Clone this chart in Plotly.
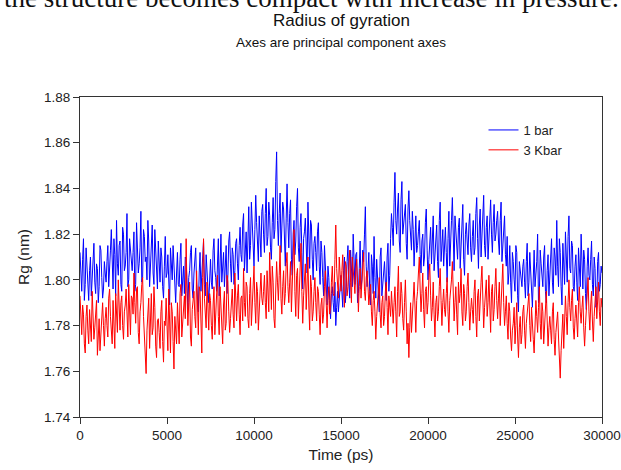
import plotly.graph_objects as go

# Samples: values at whole 100 ps steps (0 ... 30000 ps)
time_step_ps = [i * 100 for i in range(301)]
# and values at the half steps in between (50 ... 29950 ps)
time_half_ps = [i * 100 + 50 for i in range(300)]

# Radius of gyration (nm) at 1 bar
rg_1bar = [
    1.812, 1.795, 1.818, 1.798, 1.806, 1.791, 1.810, 1.800, 1.816, 1.794, 1.805, 1.797, 1.813, 1.792, 1.808,
    1.799, 1.815, 1.803, 1.822, 1.796, 1.811, 1.826, 1.802, 1.817, 1.795, 1.820, 1.806, 1.829, 1.800, 1.812,
    1.804, 1.821, 1.798, 1.816, 1.807, 1.830, 1.801, 1.819, 1.810, 1.826, 1.797, 1.813, 1.803, 1.822, 1.806,
    1.817, 1.799, 1.810, 1.792, 1.819, 1.803, 1.795, 1.814, 1.800, 1.808, 1.790, 1.812, 1.797, 1.816, 1.802,
    1.794, 1.809, 1.787, 1.804, 1.815, 1.792, 1.808, 1.798, 1.786, 1.812, 1.801, 1.817, 1.793, 1.806, 1.790,
    1.809, 1.796, 1.818, 1.801, 1.812, 1.793, 1.820, 1.805, 1.797, 1.815, 1.802, 1.821, 1.799, 1.811, 1.804,
    1.818, 1.800, 1.823, 1.808, 1.829, 1.812, 1.803, 1.832, 1.815, 1.826, 1.806, 1.837, 1.817, 1.828, 1.810,
    1.833, 1.812, 1.840, 1.819, 1.828, 1.809, 1.836, 1.822, 1.856, 1.815, 1.838, 1.820, 1.831, 1.806, 1.842,
    1.814, 1.835, 1.802, 1.826, 1.817, 1.840, 1.808, 1.829, 1.796, 1.821, 1.811, 1.834, 1.805, 1.824, 1.800,
    1.819, 1.804, 1.825, 1.798, 1.812, 1.793, 1.808, 1.789, 1.801, 1.783, 1.797, 1.786, 1.780, 1.795, 1.791,
    1.802, 1.788, 1.810, 1.796, 1.815, 1.792, 1.806, 1.820, 1.798, 1.812, 1.794, 1.817, 1.800, 1.808, 1.832,
    1.797, 1.812, 1.789, 1.806, 1.819, 1.792, 1.803, 1.786, 1.814, 1.798, 1.808, 1.791, 1.816, 1.802, 1.829,
    1.815, 1.847, 1.820, 1.838, 1.812, 1.843, 1.824, 1.833, 1.809, 1.839, 1.818, 1.830, 1.806, 1.828, 1.815,
    1.826, 1.803, 1.820, 1.810, 1.831, 1.800, 1.818, 1.807, 1.828, 1.812, 1.824, 1.801, 1.834, 1.815, 1.806,
    1.823, 1.799, 1.830, 1.813, 1.836, 1.804, 1.821, 1.809, 1.827, 1.816, 1.833, 1.802, 1.825, 1.811, 1.829,
    1.808, 1.826, 1.814, 1.836, 1.805, 1.831, 1.819, 1.837, 1.810, 1.828, 1.816, 1.835, 1.812, 1.833, 1.820,
    1.830, 1.811, 1.834, 1.816, 1.828, 1.806, 1.798, 1.815, 1.790, 1.808, 1.795, 1.812, 1.786, 1.804, 1.797,
    1.809, 1.792, 1.816, 1.799, 1.806, 1.788, 1.813, 1.801, 1.820, 1.794, 1.807, 1.797, 1.815, 1.790, 1.811,
    1.800, 1.818, 1.794, 1.810, 1.826, 1.797, 1.812, 1.789, 1.808, 1.821, 1.799, 1.828, 1.803, 1.815, 1.795,
    1.811, 1.791, 1.806, 1.820, 1.796, 1.809, 1.787, 1.814, 1.800, 1.817, 1.793, 1.805, 1.790, 1.812, 1.798,
    1.803,
]
rg_1bar_half = [
    1.800, 1.809, 1.791, 1.814, 1.796, 1.804, 1.793, 1.811, 1.799, 1.807, 1.790, 1.815, 1.801, 1.796, 1.803,
    1.808, 1.797, 1.813, 1.801, 1.818, 1.793, 1.807, 1.815, 1.798, 1.823, 1.804, 1.812, 1.797, 1.818, 1.805,
    1.812, 1.795, 1.825, 1.803, 1.814, 1.799, 1.822, 1.808, 1.800, 1.817, 1.806, 1.824, 1.798, 1.811, 1.796,
    1.808, 1.814, 1.797, 1.806, 1.801, 1.811, 1.789, 1.806, 1.815, 1.795, 1.803, 1.798, 1.809, 1.793, 1.806,
    1.810, 1.797, 1.801, 1.812, 1.796, 1.803, 1.814, 1.788, 1.803, 1.795, 1.809, 1.798, 1.811, 1.797, 1.804,
    1.799, 1.813, 1.804, 1.795, 1.818, 1.803, 1.799, 1.812, 1.808, 1.794, 1.817, 1.807, 1.814, 1.798, 1.816,
    1.807, 1.815, 1.811, 1.824, 1.804, 1.821, 1.826, 1.809, 1.834, 1.813, 1.822, 1.825, 1.808, 1.821, 1.830,
    1.820, 1.829, 1.815, 1.834, 1.814, 1.825, 1.818, 1.843, 1.826, 1.829, 1.812, 1.834, 1.816, 1.827, 1.825,
    1.829, 1.809, 1.820, 1.811, 1.832, 1.814, 1.823, 1.812, 1.818, 1.827, 1.803, 1.817, 1.826, 1.809, 1.816,
    1.812, 1.821, 1.806, 1.817, 1.801, 1.815, 1.797, 1.806, 1.791, 1.794, 1.790, 1.799, 1.788, 1.786, 1.799,
    1.795, 1.804, 1.790, 1.808, 1.799, 1.813, 1.797, 1.803, 1.811, 1.790, 1.805, 1.796, 1.813, 1.820, 1.806,
    1.804, 1.795, 1.811, 1.794, 1.801, 1.809, 1.795, 1.810, 1.793, 1.804, 1.799, 1.810, 1.795, 1.818, 1.823,
    1.834, 1.826, 1.831, 1.817, 1.835, 1.820, 1.829, 1.816, 1.831, 1.826, 1.813, 1.822, 1.818, 1.812, 1.821,
    1.811, 1.817, 1.806, 1.825, 1.813, 1.809, 1.823, 1.817, 1.804, 1.820, 1.808, 1.826, 1.808, 1.822, 1.819,
    1.812, 1.818, 1.806, 1.826, 1.816, 1.828, 1.812, 1.823, 1.805, 1.830, 1.809, 1.820, 1.817, 1.824, 1.814,
    1.819, 1.811, 1.829, 1.818, 1.824, 1.810, 1.830, 1.815, 1.823, 1.809, 1.827, 1.820, 1.825, 1.817, 1.826,
    1.817, 1.826, 1.808, 1.823, 1.811, 1.819, 1.803, 1.799, 1.812, 1.800, 1.815, 1.793, 1.808, 1.798, 1.806,
    1.799, 1.808, 1.793, 1.812, 1.796, 1.809, 1.797, 1.808, 1.790, 1.813, 1.801, 1.810, 1.795, 1.804, 1.793,
    1.808, 1.799, 1.814, 1.802, 1.806, 1.818, 1.797, 1.816, 1.798, 1.806, 1.819, 1.805, 1.817, 1.797, 1.806,
    1.799, 1.814, 1.797, 1.805, 1.813, 1.794, 1.806, 1.802, 1.809, 1.798, 1.810, 1.788, 1.808, 1.795, 1.806,
]

# Radius of gyration (nm) at 3 Kbar
rg_3kbar = [
    1.793, 1.776, 1.785, 1.768, 1.789, 1.772, 1.781, 1.795, 1.774, 1.786, 1.767, 1.783, 1.777, 1.790, 1.771,
    1.788, 1.775, 1.796, 1.779, 1.791, 1.770, 1.786, 1.800, 1.778, 1.793, 1.774, 1.789, 1.782, 1.798, 1.776,
    1.792, 1.803, 1.781, 1.797, 1.772, 1.790, 1.801, 1.776, 1.759, 1.785, 1.770, 1.794, 1.779, 1.788, 1.766,
    1.783, 1.770, 1.791, 1.764, 1.780, 1.774, 1.796, 1.768, 1.786, 1.761, 1.778, 1.790, 1.772, 1.798, 1.781,
    1.793, 1.818, 1.780, 1.799, 1.771, 1.790, 1.784, 1.804, 1.776, 1.795, 1.768, 1.818, 1.786, 1.799, 1.778,
    1.791, 1.774, 1.797, 1.783, 1.802, 1.776, 1.789, 1.772, 1.795, 1.781, 1.799, 1.777, 1.792, 1.785, 1.803,
    1.782, 1.798, 1.776, 1.793, 1.805, 1.784, 1.797, 1.779, 1.801, 1.788, 1.806, 1.781, 1.795, 1.786, 1.803,
    1.789, 1.802, 1.783, 1.797, 1.812, 1.787, 1.799, 1.779, 1.808, 1.791, 1.815, 1.785, 1.804, 1.794, 1.812,
    1.790, 1.808, 1.796, 1.822, 1.784, 1.805, 1.792, 1.816, 1.781, 1.800, 1.787, 1.810, 1.778, 1.797, 1.786,
    1.801, 1.782, 1.795, 1.776, 1.792, 1.785, 1.804, 1.779, 1.797, 1.788, 1.806, 1.793, 1.824, 1.798, 1.810,
    1.795, 1.811, 1.788, 1.806, 1.797, 1.813, 1.790, 1.803, 1.794, 1.809, 1.786, 1.805, 1.799, 1.812, 1.791,
    1.804, 1.789, 1.798, 1.780, 1.795, 1.774, 1.790, 1.801, 1.779, 1.793, 1.784, 1.799, 1.776, 1.788, 1.795,
    1.781, 1.797, 1.775, 1.806, 1.786, 1.794, 1.778, 1.800, 1.772, 1.766, 1.790, 1.783, 1.799, 1.777, 1.795,
    1.810, 1.786, 1.803, 1.779, 1.797, 1.790, 1.807, 1.782, 1.799, 1.775, 1.793, 1.786, 1.805, 1.780, 1.796,
    1.784, 1.801, 1.777, 1.795, 1.808, 1.782, 1.797, 1.776, 1.790, 1.805, 1.780, 1.794, 1.786, 1.803, 1.778,
    1.792, 1.781, 1.800, 1.775, 1.796, 1.788, 1.806, 1.779, 1.794, 1.784, 1.802, 1.777, 1.798, 1.787, 1.805,
    1.783, 1.799, 1.788, 1.807, 1.780, 1.793, 1.774, 1.786, 1.769, 1.781, 1.772, 1.790, 1.766, 1.784, 1.776,
    1.789, 1.770, 1.785, 1.794, 1.773, 1.783, 1.768, 1.791, 1.777, 1.797, 1.774, 1.786, 1.779, 1.795, 1.771,
    1.784, 1.772, 1.790, 1.767, 1.781, 1.775, 1.757, 1.779, 1.770, 1.793, 1.776, 1.800, 1.782, 1.796, 1.774,
    1.789, 1.775, 1.797, 1.781, 1.793, 1.771, 1.786, 1.801, 1.778, 1.795, 1.773, 1.790, 1.783, 1.799, 1.780,
    1.788,
]
rg_3kbar_half = [
    1.781, 1.789, 1.772, 1.784, 1.778, 1.787, 1.773, 1.785, 1.779, 1.791, 1.775, 1.769, 1.786, 1.780, 1.783,
    1.780, 1.792, 1.784, 1.772, 1.783, 1.794, 1.777, 1.788, 1.790, 1.780, 1.786, 1.796, 1.775, 1.787, 1.793,
    1.785, 1.790, 1.796, 1.777, 1.786, 1.798, 1.784, 1.770, 1.778, 1.792, 1.787, 1.776, 1.797, 1.771, 1.782,
    1.777, 1.786, 1.773, 1.782, 1.792, 1.769, 1.783, 1.790, 1.773, 1.784, 1.772, 1.780, 1.794, 1.775, 1.788,
    1.783, 1.794, 1.790, 1.775, 1.787, 1.795, 1.779, 1.790, 1.797, 1.782, 1.801, 1.792, 1.779, 1.790, 1.794,
    1.780, 1.789, 1.776, 1.794, 1.784, 1.797, 1.780, 1.789, 1.778, 1.802, 1.786, 1.783, 1.796, 1.779, 1.788,
    1.793, 1.785, 1.792, 1.782, 1.790, 1.799, 1.783, 1.794, 1.780, 1.797, 1.790, 1.799, 1.778, 1.799, 1.792,
    1.795, 1.790, 1.804, 1.786, 1.798, 1.806, 1.783, 1.796, 1.799, 1.802, 1.792, 1.797, 1.789, 1.807, 1.797,
    1.799, 1.786, 1.809, 1.795, 1.802, 1.783, 1.806, 1.795, 1.793, 1.807, 1.796, 1.789, 1.802, 1.782, 1.795,
    1.790, 1.797, 1.785, 1.789, 1.781, 1.797, 1.790, 1.791, 1.785, 1.799, 1.794, 1.809, 1.805, 1.792, 1.802,
    1.804, 1.797, 1.808, 1.793, 1.805, 1.799, 1.810, 1.796, 1.804, 1.799, 1.797, 1.792, 1.808, 1.795, 1.801,
    1.797, 1.794, 1.786, 1.791, 1.786, 1.784, 1.795, 1.785, 1.790, 1.780, 1.795, 1.788, 1.793, 1.784, 1.790,
    1.790, 1.786, 1.795, 1.784, 1.799, 1.783, 1.790, 1.786, 1.781, 1.779, 1.777, 1.793, 1.789, 1.791, 1.803,
    1.796, 1.794, 1.787, 1.795, 1.785, 1.801, 1.793, 1.788, 1.785, 1.790, 1.782, 1.797, 1.791, 1.790, 1.787,
    1.794, 1.786, 1.791, 1.800, 1.789, 1.790, 1.785, 1.799, 1.794, 1.786, 1.798, 1.782, 1.797, 1.790, 1.786,
    1.787, 1.795, 1.784, 1.793, 1.782, 1.799, 1.790, 1.788, 1.800, 1.790, 1.786, 1.795, 1.782, 1.797, 1.791,
    1.792, 1.780, 1.799, 1.790, 1.786, 1.781, 1.790, 1.775, 1.778, 1.788, 1.780, 1.775, 1.779, 1.772, 1.786,
    1.778, 1.781, 1.789, 1.780, 1.788, 1.774, 1.782, 1.784, 1.788, 1.781, 1.790, 1.772, 1.791, 1.782, 1.779,
    1.778, 1.786, 1.774, 1.777, 1.786, 1.765, 1.769, 1.785, 1.781, 1.784, 1.790, 1.788, 1.791, 1.779, 1.783,
    1.782, 1.790, 1.786, 1.788, 1.779, 1.780, 1.794, 1.786, 1.789, 1.782, 1.784, 1.797, 1.789, 1.786, 1.792,
]

series_names = ["1 bar", "3 Kbar"]
x_ticks = [0, 5000, 10000, 15000, 20000, 25000, 30000]
y_ticks = [1.74, 1.76, 1.78, 1.80, 1.82, 1.84, 1.86, 1.88]
y_tick_labels = ["1.74", "1.76", "1.78", "1.80", "1.82", "1.84", "1.86", "1.88"]


def merge(t_a, v_a, t_b, v_b):
    pairs = sorted(zip(list(t_a) + list(t_b), list(v_a) + list(v_b)))
    return [p[0] for p in pairs], [p[1] for p in pairs]


t_blue, y_blue = merge(time_step_ps, rg_1bar, time_half_ps, rg_1bar_half)
t_red, y_red = merge(time_step_ps, rg_3kbar, time_half_ps, rg_3kbar_half)

FONT = "Liberation Sans, Arial, sans-serif"

fig = go.Figure()
fig.add_trace(go.Scatter(x=t_blue, y=y_blue, mode="lines", name=series_names[0],
                         line=dict(color="#0000ff", width=1)))
fig.add_trace(go.Scatter(x=t_red, y=y_red, mode="lines", name=series_names[1],
                         line=dict(color="#ff0000", width=1)))

W, H = 621, 470
L, R, T, B = 80, 19, 97, 53
plot_h = H - T - B


def py(pix):
    return (H - B - pix) / plot_h


fig.update_layout(
    width=W, height=H,
    margin=dict(l=L, r=R, t=T, b=B, autoexpand=False),
    paper_bgcolor="white", plot_bgcolor="white",
    font=dict(family=FONT, size=13.5, color="#222"),
    showlegend=True,
    legend=dict(x=0.773, y=py(115), xanchor="left", yanchor="top",
                bgcolor="rgba(0,0,0,0)", borderwidth=0,
                font=dict(size=13, family=FONT, color="#222"),
                tracegroupgap=0),
    xaxis=dict(range=[0, 30000], tickvals=x_ticks, ticktext=[str(v) for v in x_ticks],
               showgrid=False, zeroline=False, showline=True, linecolor="#333", linewidth=1,
               mirror=True, ticks="outside", ticklen=6, tickcolor="#333",
               tickfont=dict(size=13.5, family=FONT, color="#222"),
               title=dict(text="Time (ps)", font=dict(size=15.5, family=FONT, color="#222"),
                          standoff=6),
               automargin=False),
    yaxis=dict(range=[1.74, 1.88], tickvals=y_ticks, ticktext=y_tick_labels,
               showgrid=False, zeroline=False, showline=True, linecolor="#333", linewidth=1,
               mirror=True, ticks="outside", ticklen=6, tickcolor="#333",
               tickfont=dict(size=13.5, family=FONT, color="#222"),
               title=dict(text="Rg (nm)", font=dict(size=15.5, family=FONT, color="#222"),
                          standoff=10),
               automargin=False),
    annotations=[
        dict(text="the structure becomes compact with increase in pressure.",
             xref="paper", yref="paper", x=(311 - L) / (W - L - R), y=py(-2),
             xanchor="center", yanchor="middle", showarrow=False,
             font=dict(family="Liberation Serif, Times New Roman, serif", size=27, color="#111")),
        dict(text="Radius of gyration", xref="paper", yref="paper",
             x=0.5, y=py(21), xanchor="center", yanchor="middle", showarrow=False,
             font=dict(family=FONT, size=17, color="#111")),
        dict(text="Axes are principal component axes", xref="paper", yref="paper",
             x=0.5, y=py(42), xanchor="center", yanchor="middle", showarrow=False,
             font=dict(family=FONT, size=13.5, color="#111")),
    ],
)

fig.write_html(
    "out.html",
    config={"displayModeBar": False},
    post_script="document.body.style.margin='0';document.body.style.overflow='hidden';",
)
